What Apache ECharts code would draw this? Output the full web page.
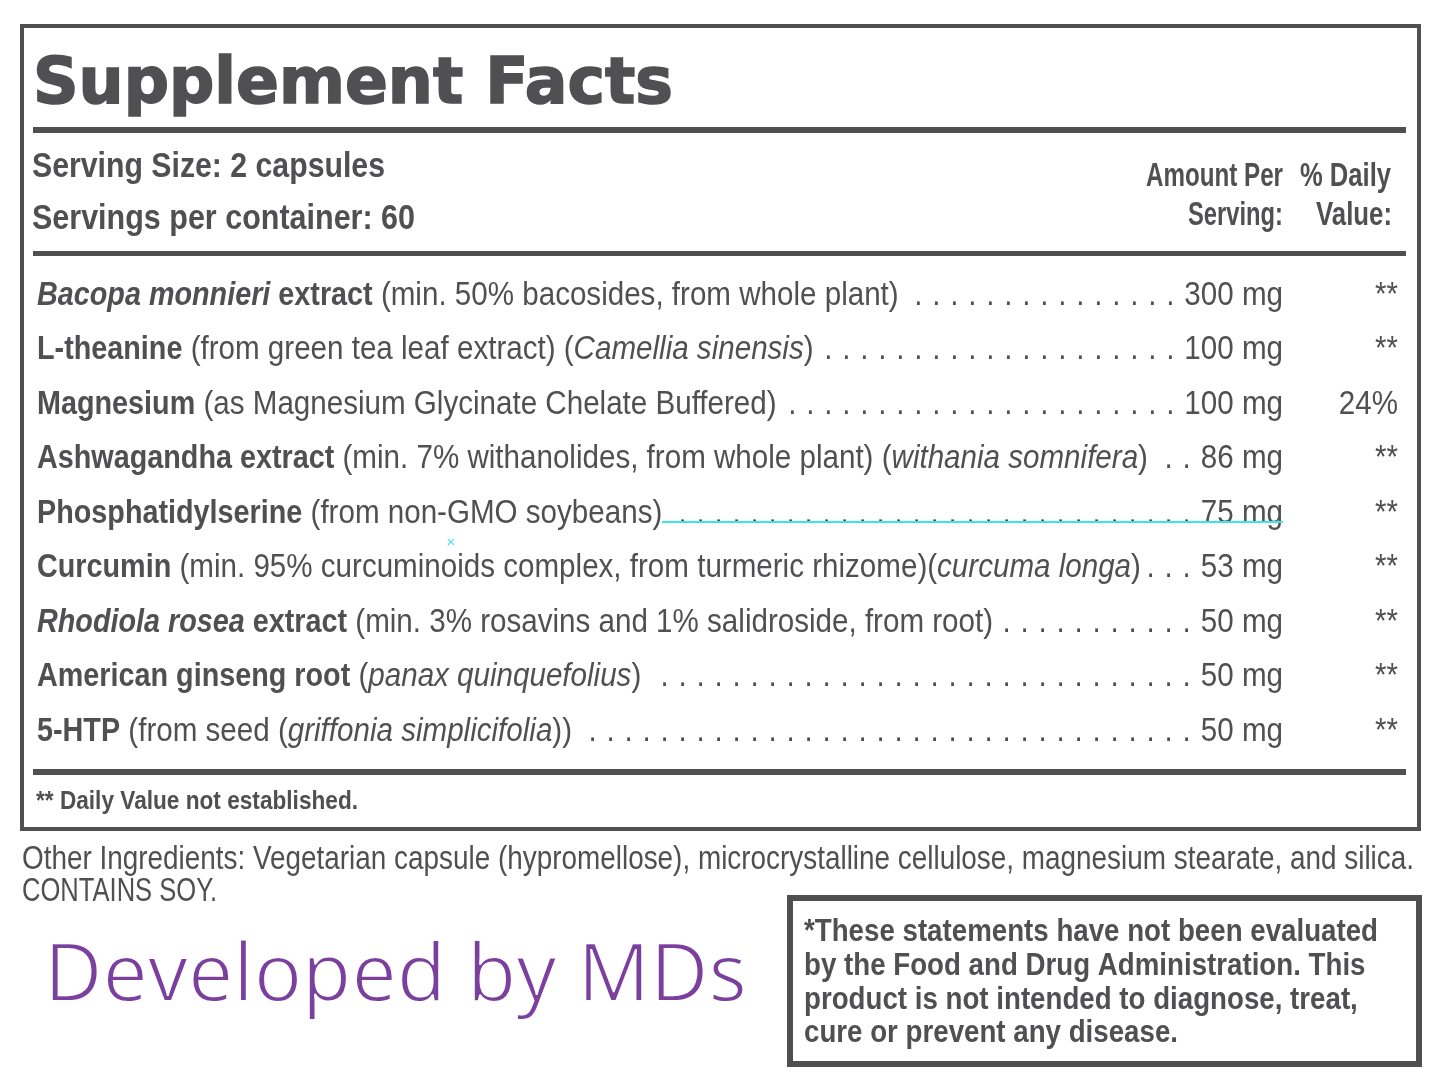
<!DOCTYPE html>
<html><head><meta charset="utf-8">
<script src="https://cdn.jsdelivr.net/npm/echarts@6/dist/echarts.min.js"></script>
<style>html,body{margin:0;padding:0;background:#fff}#c{width:1445px;height:1087px}</style>
</head><body><div id="c"></div>
<script>
// ---------- data ----------
const title = 'Supplement Facts';
const servingInfo = ['Serving Size: 2 capsules', 'Servings per container: 60'];
const headerAmount = ['Amount Per', 'Serving:'];
const headerDV = ['% Daily', 'Value:'];
const ingredientNames = ['_Bacopa monnieri_ extract', 'L-theanine', 'Magnesium', 'Ashwagandha extract', 'Phosphatidylserine', 'Curcumin', '_Rhodiola rosea_ extract', 'American ginseng root', '5-HTP'];
const ingredientDetails = [' (min. 50% bacosides, from whole plant)', ' (from green tea leaf extract) (_Camellia sinensis_)', ' (as Magnesium Glycinate Chelate Buffered)', ' (min. 7% withanolides, from whole plant) (_withania somnifera_)', ' (from non-GMO soybeans)', ' (min. 95% curcuminoids complex, from turmeric rhizome)(_curcuma longa_)', ' (min. 3% rosavins and 1% salidroside, from root)', ' (_panax quinquefolius_)', ' (from seed (_griffonia simplicifolia_))'];
const amountsMg = [300, 100, 100, 86, 75, 53, 50, 50, 50];
const amountUnit = 'mg';
const dailyValues = ['**', '**', '24%', '**', '**', '**', '**', '**', '**'];
const footnote = '** Daily Value not established.';
const otherIngredients = ['Other Ingredients: Vegetarian capsule (hypromellose), microcrystalline cellulose, magnesium stearate, and silica.', 'CONTAINS SOY.'];
const tagline = 'Developed by MDs';
const disclaimer = ['*These statements have not been evaluated', 'by the Food and Drug Administration. This', 'product is not intended to diagnose, treat,', 'cure or prevent any disease.'];

// ---------- layout ----------
const chart = echarts.init(document.getElementById('c'), null, {renderer: 'canvas', width: 1445, height: 1087});
const INK = '#505052';
const REG = '"Liberation Sans", Arial, sans-serif';
const mctx = document.createElement('canvas').getContext('2d');
function fontStr(size, weight, style, fam) { return (style || 'normal') + ' ' + (weight || 'normal') + ' ' + size + 'px ' + (fam || REG); }
function measure(t, f) { mctx.font = f; return mctx.measureText(t).width; }
const els = [];
function text(t, x, y, o) {
  const f = fontStr(o.size, o.weight, o.style, o.fam);
  const w = measure(t, f);
  let sx = o.sx || 1;
  if (o.fit) sx = o.fit / w;
  const al = o.align || 'left';
  const st = {text: t, font: f, fill: o.fill === undefined ? INK : o.fill, textAlign: al, align: al, textVerticalAlign: 'middle', verticalAlign: 'middle'};
  if (o.stroke) { st.stroke = o.stroke; st.lineWidth = o.lw; st.lineJoin = 'round'; }
  els.push({type: 'text', x: x, y: y, scaleX: sx, silent: true, style: st});
  return {w: w * sx, sx: sx};
}
function frame(x, y, w, h, lw) { els.push({type: 'rect', silent: true, shape: {x: x, y: y, width: w, height: h}, style: {fill: null, stroke: INK, lineWidth: lw}}); }
function rule(y, h) { els.push({type: 'rect', silent: true, shape: {x: 33, y: y, width: 1373, height: h}, style: {fill: INK}}); }
function parse(s, weight) { return s.split('_').map((t, i) => ({t: t, style: i % 2 ? 'italic' : 'normal', weight: weight})).filter(p => p.t); }

// boxes and rules
frame(22, 26, 1397, 803, 4);
frame(790, 898, 629, 166, 6);
rule(127, 6);
rule(251, 5);
rule(769, 6);

// title and header
text(title, 33, 86, {size: 64, weight: 'bold', fam: '"DejaVu Sans", sans-serif', fit: 640, stroke: INK, lw: 1.6});
text(servingInfo[0], 32, 167, {size: 35, weight: 'bold', fit: 353});
text(servingInfo[1], 32, 219, {size: 35, weight: 'bold', fit: 383});
text(headerAmount[0], 1283, 177, {size: 34, weight: 'bold', align: 'right', fit: 137});
text(headerAmount[1], 1283, 216, {size: 34, weight: 'bold', align: 'right', fit: 95});
text(headerDV[0], 1391, 177, {size: 34, weight: 'bold', align: 'right', fit: 91});
text(headerDV[1], 1392, 216, {size: 34, weight: 'bold', align: 'right', fit: 76});

// ingredient rows
const ROW_Y0 = 296, ROW_STEP = 54.45, RS = 32.5, CS = 0.91, BS = 0.885, AMT_R = 1283, DV_R = 1398, DOT_PITCH = 18;
ingredientNames.forEach((nm, i) => {
  const y = ROW_Y0 + i * ROW_STEP;
  let cx = 37;
  parse(nm, 'bold').concat(parse(ingredientDetails[i], 'normal')).forEach(s => {
    cx += text(s.t, cx, y, {size: RS, weight: s.weight, style: s.style, sx: s.weight === 'bold' ? BS : CS}).w;
  });
  const aw = text(amountsMg[i] + ' ' + amountUnit, AMT_R, y, {size: RS, sx: CS, align: 'right'}).w;
  let dx = AMT_R - aw - 10;
  while (dx > cx + 12) { text('.', dx, y, {size: RS, sx: CS, align: 'right'}); dx -= DOT_PITCH; }
  text(dailyValues[i], DV_R, y, {size: RS, sx: CS, align: 'right'});
});

// editing marks visible in the reference
els.push({type: 'line', silent: true, shape: {x1: 662, y1: 522, x2: 1283, y2: 522}, style: {stroke: '#3fe3ea', lineWidth: 2}});
text('×', 451, 543, {size: 15, fill: '#3fe3ea', align: 'center'});

// footnote & below
text(footnote, 36, 802, {size: 26, weight: 'bold', fit: 322});
text(otherIngredients[0], 22, 860, {size: 33.5, fit: 1392});
text(otherIngredients[1], 22, 892, {size: 33.5, fit: 195});
// tagline: light look obtained by thinning the glyphs with a white outline drawn on top
text(tagline, 44, 978, {size: 81, fam: '"Open Sans", sans-serif', fill: '#7b3f9e', fit: 703});
text(tagline, 44, 978, {size: 81, fam: '"Open Sans", sans-serif', fill: null, fit: 703, stroke: '#ffffff', lw: 1.8});
const d0 = text(disclaimer[0], 804, 932, {size: 32, weight: 'bold', fit: 574});
disclaimer.slice(1).forEach((l, k) => text(l, 804, 966 + k * 33.7, {size: 32, weight: 'bold', sx: d0.sx}));

chart.setOption({animation: false, backgroundColor: '#ffffff', graphic: {elements: els}});
</script></body></html>
